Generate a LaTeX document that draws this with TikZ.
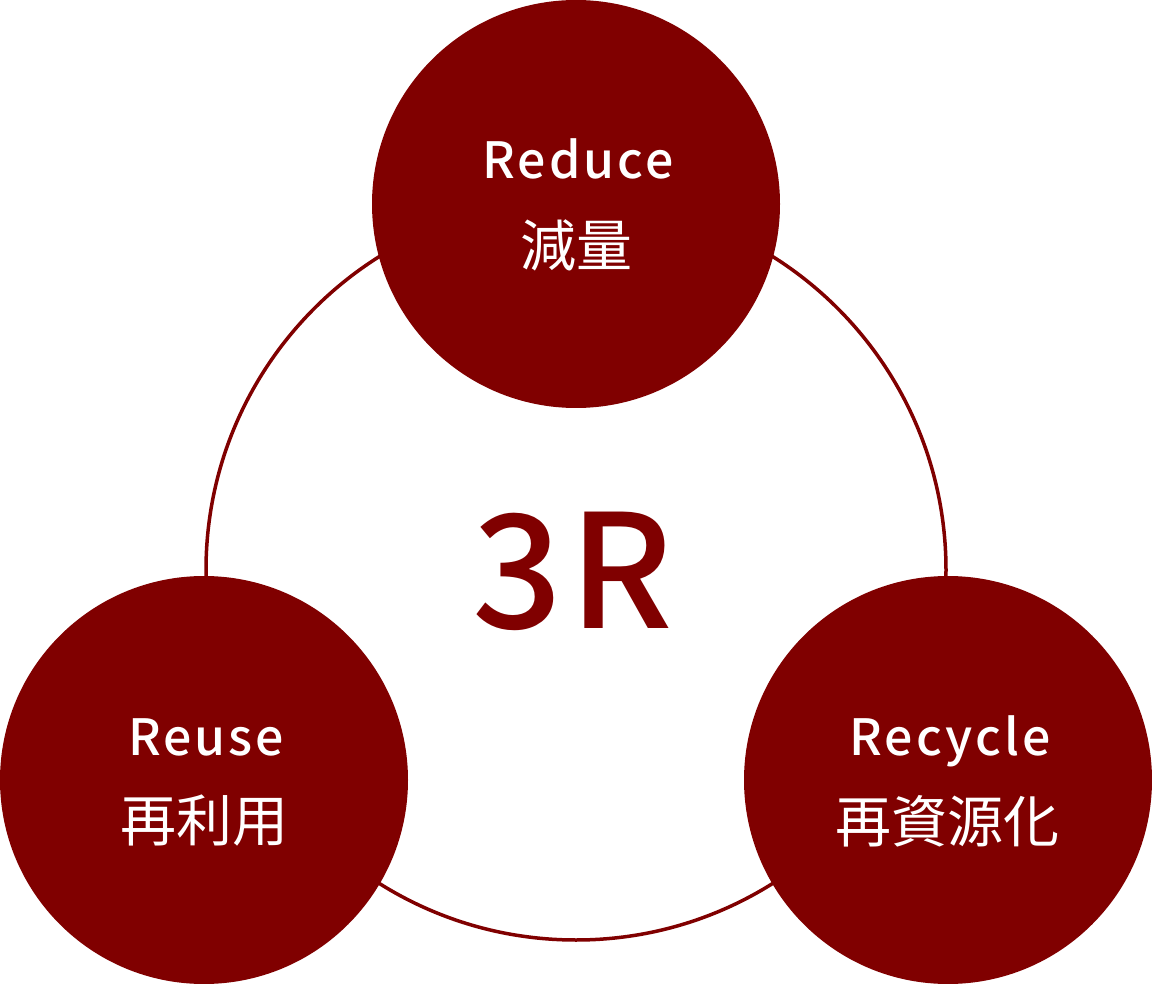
\documentclass[tikz,border=0pt]{standalone}
\usepackage{fontspec}
\setmainfont{Noto Sans CJK JP}
\newfontfamily\latf[LetterSpace=6]{Noto Sans CJK JP Medium}
\newfontfamily\cjkf{Noto Sans CJK JP}
\newfontfamily\bigf[LetterSpace=4]{Noto Sans CJK JP Medium}
\definecolor{dred}{HTML}{800000}
\tikzset{
  ball/.style={circle, fill=dred, draw=none, inner sep=0pt, minimum size=408pt},
  ring/.style={circle, draw=dred, line width=3.5pt, inner sep=0pt, minimum size=740pt},
  lat/.style={text=white, inner sep=0pt, anchor=base, font=\latf\fontsize{50}{60}\selectfont},
  cj/.style={text=white, inner sep=0pt, font=\cjkf\fontsize{56}{60}\selectfont},
  big/.style={text=dred, inner sep=0pt, anchor=base, font=\bigf\fontsize{158}{170}\selectfont}
}
\begin{document}
\begin{tikzpicture}[x=1pt,y=-1pt]
\useasboundingbox (0,0) rectangle (1152,984);
\node[ring] (ringc) at (576,570) {};
\node[ball] (reduce) at (576,204) {};
\node[ball] (reuse) at (204,780) {};
\node[ball] (recycle) at (948,780) {};
\node[lat] (treduce) at (578,179) {Reduce};
\node[cj] (jreduce) at (576,245) {減量};
\node[lat] (treuse) at (206,755) {Reuse};
\node[cj] (jreuse) at (204,821) {再利用};
\node[lat] (trecycle) at (950,755) {Recycle};
\node[cj] (jrecycle) at (947,821) {再資源化};
\node[big] (three) at (573,628) {3R};
\end{tikzpicture}
\end{document}
